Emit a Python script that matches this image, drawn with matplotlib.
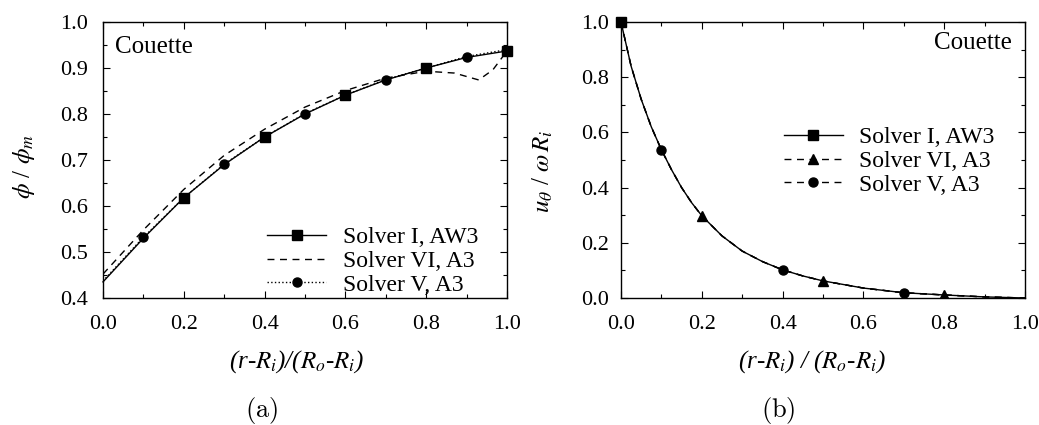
import matplotlib
matplotlib.use("Agg")
import matplotlib.pyplot as plt
from matplotlib.ticker import MultipleLocator

plt.rcParams['font.family'] = ['Liberation Serif', 'DejaVu Serif']
plt.rcParams['mathtext.fontset'] = 'stix'

# (a) concentration profile
xa = [0.0, 0.1, 0.2, 0.3, 0.4, 0.5, 0.6, 0.7, 0.8, 0.9, 1.0]
phi_solver1 = [0.435, 0.530, 0.618, 0.690, 0.750, 0.800, 0.841, 0.874, 0.900, 0.923, 0.937]
phi_solver5 = [0.437, 0.532, 0.618, 0.691, 0.750, 0.801, 0.841, 0.875, 0.900, 0.925, 0.940]
xa_vi = [0.0, 0.1, 0.2, 0.3, 0.4, 0.5, 0.6, 0.7, 0.8, 0.87, 0.93, 0.965, 1.0]
phi_solver6 = [0.452, 0.548, 0.636, 0.710, 0.767, 0.815, 0.851, 0.878, 0.893, 0.889, 0.874, 0.896, 0.937]

# (b) velocity profile
xb = [0.0, 0.025, 0.05, 0.075, 0.1, 0.125, 0.15, 0.175, 0.2, 0.25, 0.3, 0.35, 0.4,
      0.45, 0.5, 0.6, 0.7, 0.8, 0.9, 1.0]
u_solver1 = [1.0, 0.84, 0.72, 0.62, 0.537, 0.465, 0.40, 0.345, 0.298, 0.225, 0.17, 0.132, 0.102,
             0.08, 0.062, 0.036, 0.019, 0.011, 0.004, 0.0]
u_solver6 = [1.0, 0.84, 0.72, 0.62, 0.537, 0.465, 0.40, 0.345, 0.298, 0.225, 0.17, 0.132, 0.102,
             0.08, 0.062, 0.036, 0.019, 0.011, 0.004, 0.0]
u_solver5 = [1.0, 0.84, 0.72, 0.62, 0.537, 0.465, 0.40, 0.345, 0.298, 0.225, 0.17, 0.132, 0.102,
             0.08, 0.062, 0.036, 0.019, 0.011, 0.004, 0.0]

fig = plt.figure(figsize=(10.39, 4.25), dpi=100)
W, H = 1039, 425
ax1 = fig.add_axes([103/W, 1-298/H, 404/W, 276/H])
ax2 = fig.add_axes([621/W, 1-298/H, 404/W, 276/H])

fs = 17
ax1.plot(xa, phi_solver1, '-', color='black', lw=1.0, marker='s', ms=7.5,
         markevery=[2, 4, 6, 8, 10], label='Solver I, AW3', clip_on=False, zorder=4)
ax1.plot(xa_vi, phi_solver6, '--', color='black', lw=1.0, dashes=(5, 4), label='Solver VI, A3')
ax1.plot(xa, phi_solver5, ':', color='black', lw=1.0, marker='o', ms=6.5,
         markevery=[1, 3, 5, 7, 9], label='Solver V, A3')

ax2.plot(xb, u_solver1, '-', color='black', lw=1.0, marker='s', ms=7.5,
         markevery=[0], label='Solver I, AW3', clip_on=False, zorder=4)
ax2.plot(xb, u_solver6, '--', color='black', lw=1.0, dashes=(5, 4), marker='^', ms=6.5,
         markevery=[8, 14, 17], label='Solver VI, A3')
ax2.plot(xb, u_solver5, '--', color='black', lw=1.0, dashes=(5, 4), marker='o', ms=6.5,
         markevery=[4, 12, 16], label='Solver V, A3')

ax1.set_xlim(0, 1)
ax1.set_ylim(0.4, 1.0)
ax1.xaxis.set_major_locator(MultipleLocator(0.2))
ax1.xaxis.set_minor_locator(MultipleLocator(0.1))
ax1.yaxis.set_major_locator(MultipleLocator(0.1))
ax1.yaxis.set_minor_locator(MultipleLocator(0.05))

ax2.set_xlim(0, 1)
ax2.set_ylim(0, 1.0)
ax2.xaxis.set_major_locator(MultipleLocator(0.2))
ax2.xaxis.set_minor_locator(MultipleLocator(0.1))
ax2.yaxis.set_major_locator(MultipleLocator(0.2))
ax2.yaxis.set_minor_locator(MultipleLocator(0.1))

for ax in (ax1, ax2):
    ax.xaxis.set_major_formatter(lambda v, p: f'{v:.1f}')
    ax.yaxis.set_major_formatter(lambda v, p: f'{v:.1f}')
    ax.tick_params(which='both', direction='in', top=True, right=True, labelsize=16)
    ax.tick_params(which='major', length=5, width=0.8)
    ax.tick_params(which='minor', length=3, width=0.8)
    ax.tick_params(axis='x', which='major', pad=12)
    for s in ax.spines.values():
        s.set_linewidth(1.0)
ax1.tick_params(axis='y', which='major', pad=11)
ax2.tick_params(axis='y', which='major', pad=9)

ax1.legend(loc='center left', bbox_to_anchor=(0.406, 0.134), frameon=False, fontsize=fs,
           handlelength=2.5, handletextpad=0.7, labelspacing=0.1, borderpad=0, borderaxespad=0)
ax2.legend(loc='center left', bbox_to_anchor=(0.403, 0.496), frameon=False, fontsize=fs,
           handlelength=2.5, handletextpad=0.7, labelspacing=0.1, borderpad=0, borderaxespad=0)

ax1.text(0.03, 0.909, 'Couette', transform=ax1.transAxes, fontsize=18, ha='left', va='center')
ax2.text(0.968, 0.924, 'Couette', transform=ax2.transAxes, fontsize=18, ha='right', va='center')

fig.text(24/W, 1-166/H, r'$\phi$ / $\phi_m$', rotation=90, fontsize=18, ha='center', va='center')
fig.text(543/W, 1-171/H, r'$u_\theta$ / $\omega\, R_i$', rotation=90, fontsize=18, ha='center', va='center')
fig.text(297/W, 1-362/H, r'(r-$R_i$)/($R_o$-$R_i$)', style='italic', fontsize=18, ha='center', va='center')
fig.text(812/W, 1-362/H, r'(r-$R_i$) / ($R_o$-$R_i$)', style='italic', fontsize=18, ha='center', va='center')

fig.text(262/W, 1-410/H, r'$\mathrm{(a)}$', fontsize=19, ha='center', va='center', math_fontfamily='cm')
fig.text(778/W, 1-410/H, r'$\mathrm{(b)}$', fontsize=19, ha='center', va='center', math_fontfamily='cm')

fig.savefig('out.png', dpi=100)
